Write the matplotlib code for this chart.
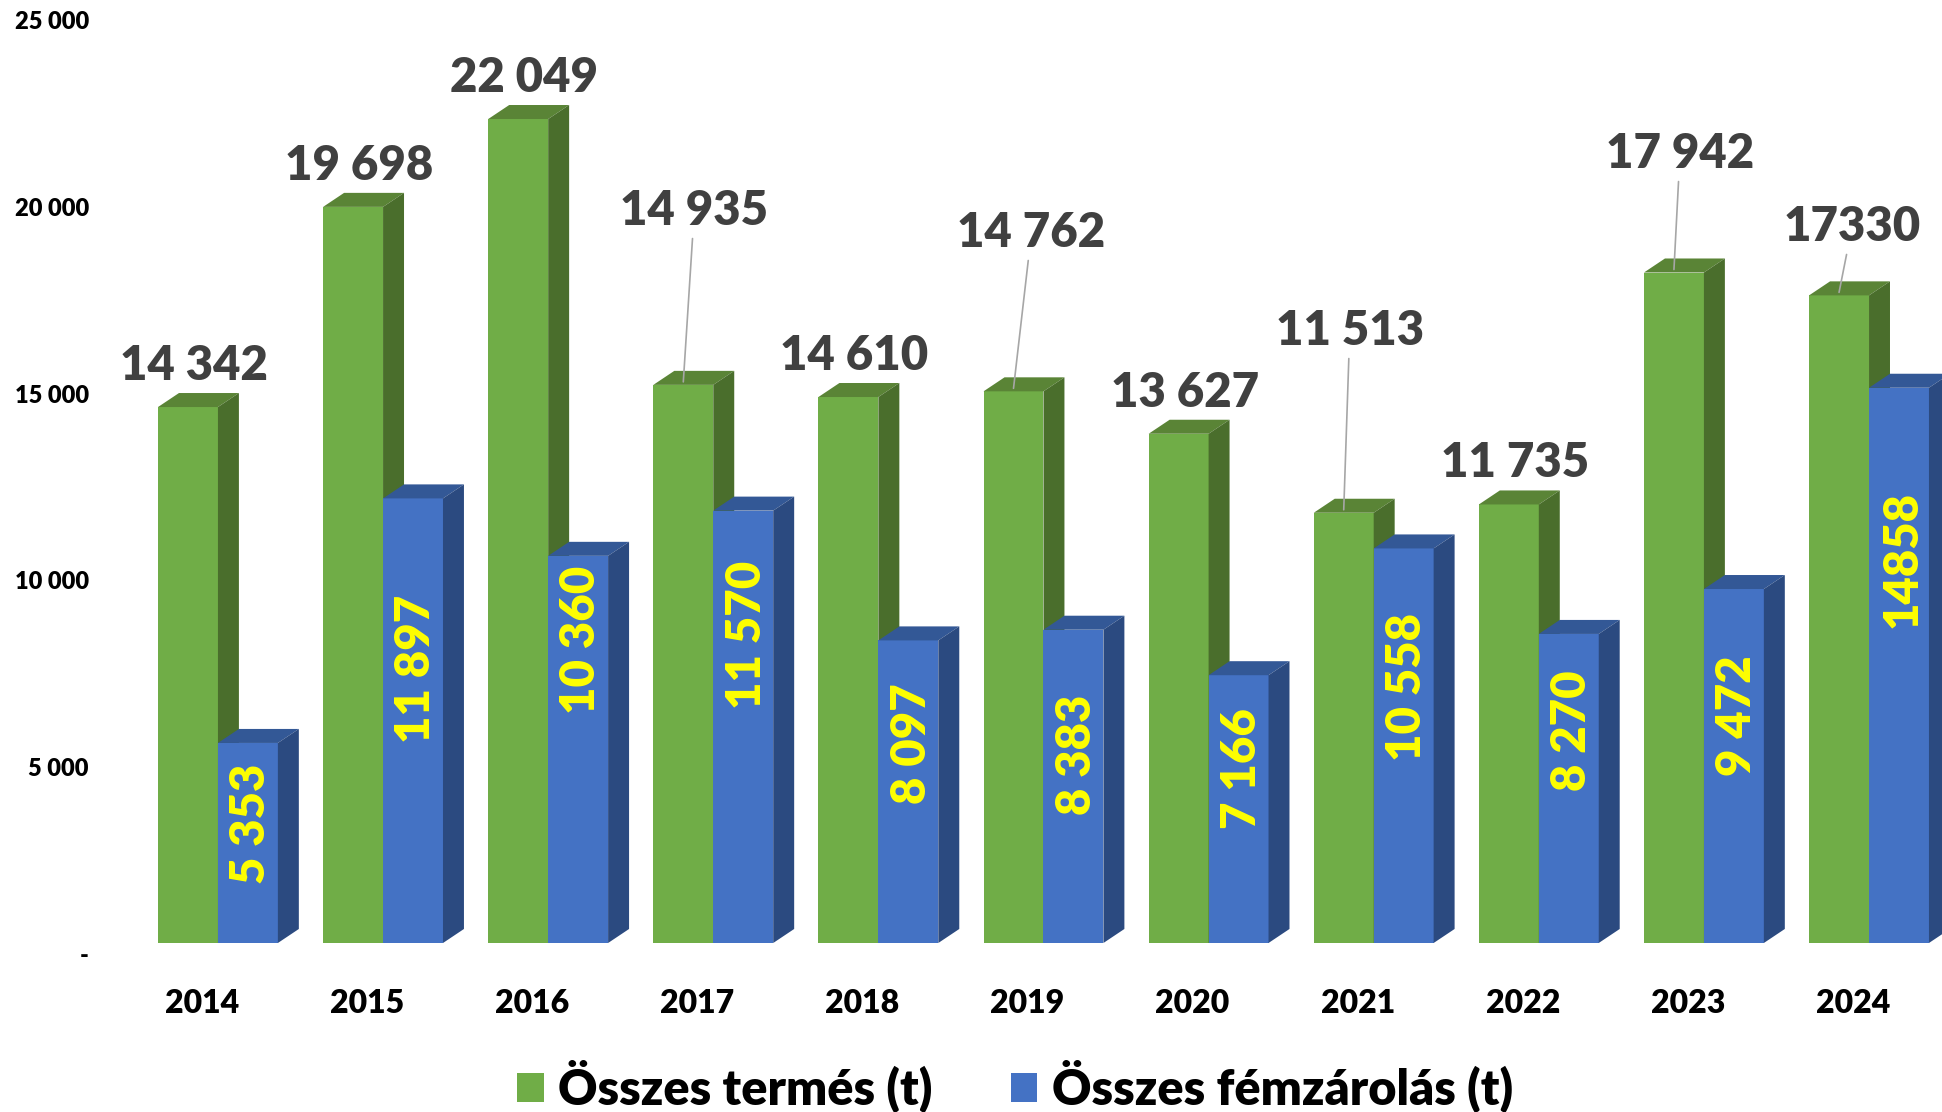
import matplotlib
matplotlib.use('Agg')
from matplotlib import pyplot as plt
from matplotlib.patches import Polygon, Rectangle, Patch

plt.rcParams['font.family'] = ['Lato', 'DejaVu Sans']
plt.rcParams['font.weight'] = 'heavy'

years = ['2014', '2015', '2016', '2017', '2018', '2019', '2020', '2021', '2022', '2023', '2024']
termes = [14342, 19698, 22049, 14935, 14610, 14762, 13627, 11513, 11735, 17942, 17330]
femzarolas = [5353, 11897, 10360, 11570, 8097, 8383, 7166, 10558, 8270, 9472, 14858]
y_ticks = [0, 5000, 10000, 15000, 20000, 25000]
y_tick_labels = ['-', '5 000', '10 000', '15 000', '20 000', '25 000']


def fmt(v):
    return f'{v:,}'.replace(',', ' ')


termes_labels = [fmt(v) for v in termes]
termes_labels[-1] = str(termes[-1])
femz_labels = [fmt(v) for v in femzarolas]
femz_labels[-1] = str(femzarolas[-1])

# label placement (layout, not data)
lab_dx = [-0.145] * len(years)
lab_dx[3] = -0.115
lab_dx[5] = -0.073
lab_dx[10] = -0.103
lab_y = [v + 1100 for v in termes]
leader = {3: 19588, 5: 19000, 7: 16377, 9: 21113, 10: 19160}
for k, v in leader.items():
    lab_y[k] = v
blue_lab_y = [3184, 7332, 8108, 8242, 5325, 5031, 4656, 6850, 5673, 6074, 10249]

green_front, green_top, green_side = '#70AD47', '#5A8436', '#4A6E2C'
blue_front, blue_top, blue_side = '#4472C4', '#335896', '#2B4A80'
W = 'heavy'

fig = plt.figure(figsize=(19.42, 11.12), dpi=100)
ax = fig.add_axes([0, 169 / 1112, 1, 943 / 1112])
ax.set_xlim(-1.320, 10.442)
ax.set_ylim(0, 25234)
ax.set_axis_off()

w = 0.363
dx = 0.127
dy = 375


def bar3d(x0, h, front, top, side):
    ax.add_patch(Rectangle((x0, 0), w, h, facecolor=front, edgecolor='none', clip_on=False))
    ax.add_patch(Polygon([(x0, h), (x0 + w, h), (x0 + w + dx, h + dy), (x0 + dx, h + dy)],
                         closed=True, facecolor=top, edgecolor='none', clip_on=False))
    ax.add_patch(Polygon([(x0 + w, 0), (x0 + w + dx, dy), (x0 + w + dx, h + dy), (x0 + w, h)],
                         closed=True, facecolor=side, edgecolor='none', clip_on=False))


for i in range(len(years)):
    bar3d(i - w, termes[i], green_front, green_top, green_side)
    bar3d(i, femzarolas[i], blue_front, blue_top, blue_side)

    if i in leader:
        ax.annotate(termes_labels[i], xy=(i - w / 2, termes[i] + 80),
                    xytext=(i + lab_dx[i], lab_y[i]), ha='center', va='center',
                    fontsize=34, color='#404040', fontweight=W,
                    arrowprops=dict(arrowstyle='-', color='#A6A6A6', lw=1.2,
                                    shrinkA=2, shrinkB=0))
    else:
        ax.text(i + lab_dx[i], lab_y[i], termes_labels[i], ha='center', va='center',
                fontsize=34, color='#404040', fontweight=W)

    ax.text(i + w / 2 + 0.02, blue_lab_y[i], femz_labels[i], ha='center', va='center',
            rotation=90, fontsize=34, color='#FFFF00', fontweight=W)

    ax.text(i - 0.097, -1606, years[i], ha='center', va='center',
            fontsize=23, color='black', fontweight=W, clip_on=False)

for v, t in zip(y_ticks, y_tick_labels):
    ax.text(-0.781, v - 350, t, ha='right', va='center', fontsize=17,
            color='black', fontweight=W, clip_on=False)

handles = [Patch(facecolor=green_front, label='Összes termés (t)'),
           Patch(facecolor=blue_front, label='Összes fémzárolás (t)')]
fig.legend(handles=handles, loc='center', bbox_to_anchor=(0.5227, 26 / 1112), ncol=2,
           frameon=False, prop={'size': 35, 'weight': W}, handlelength=0.55,
           handleheight=0.55, handletextpad=0.3, columnspacing=1.6)

fig.savefig('out.png', dpi=100)
plt.close(fig)
